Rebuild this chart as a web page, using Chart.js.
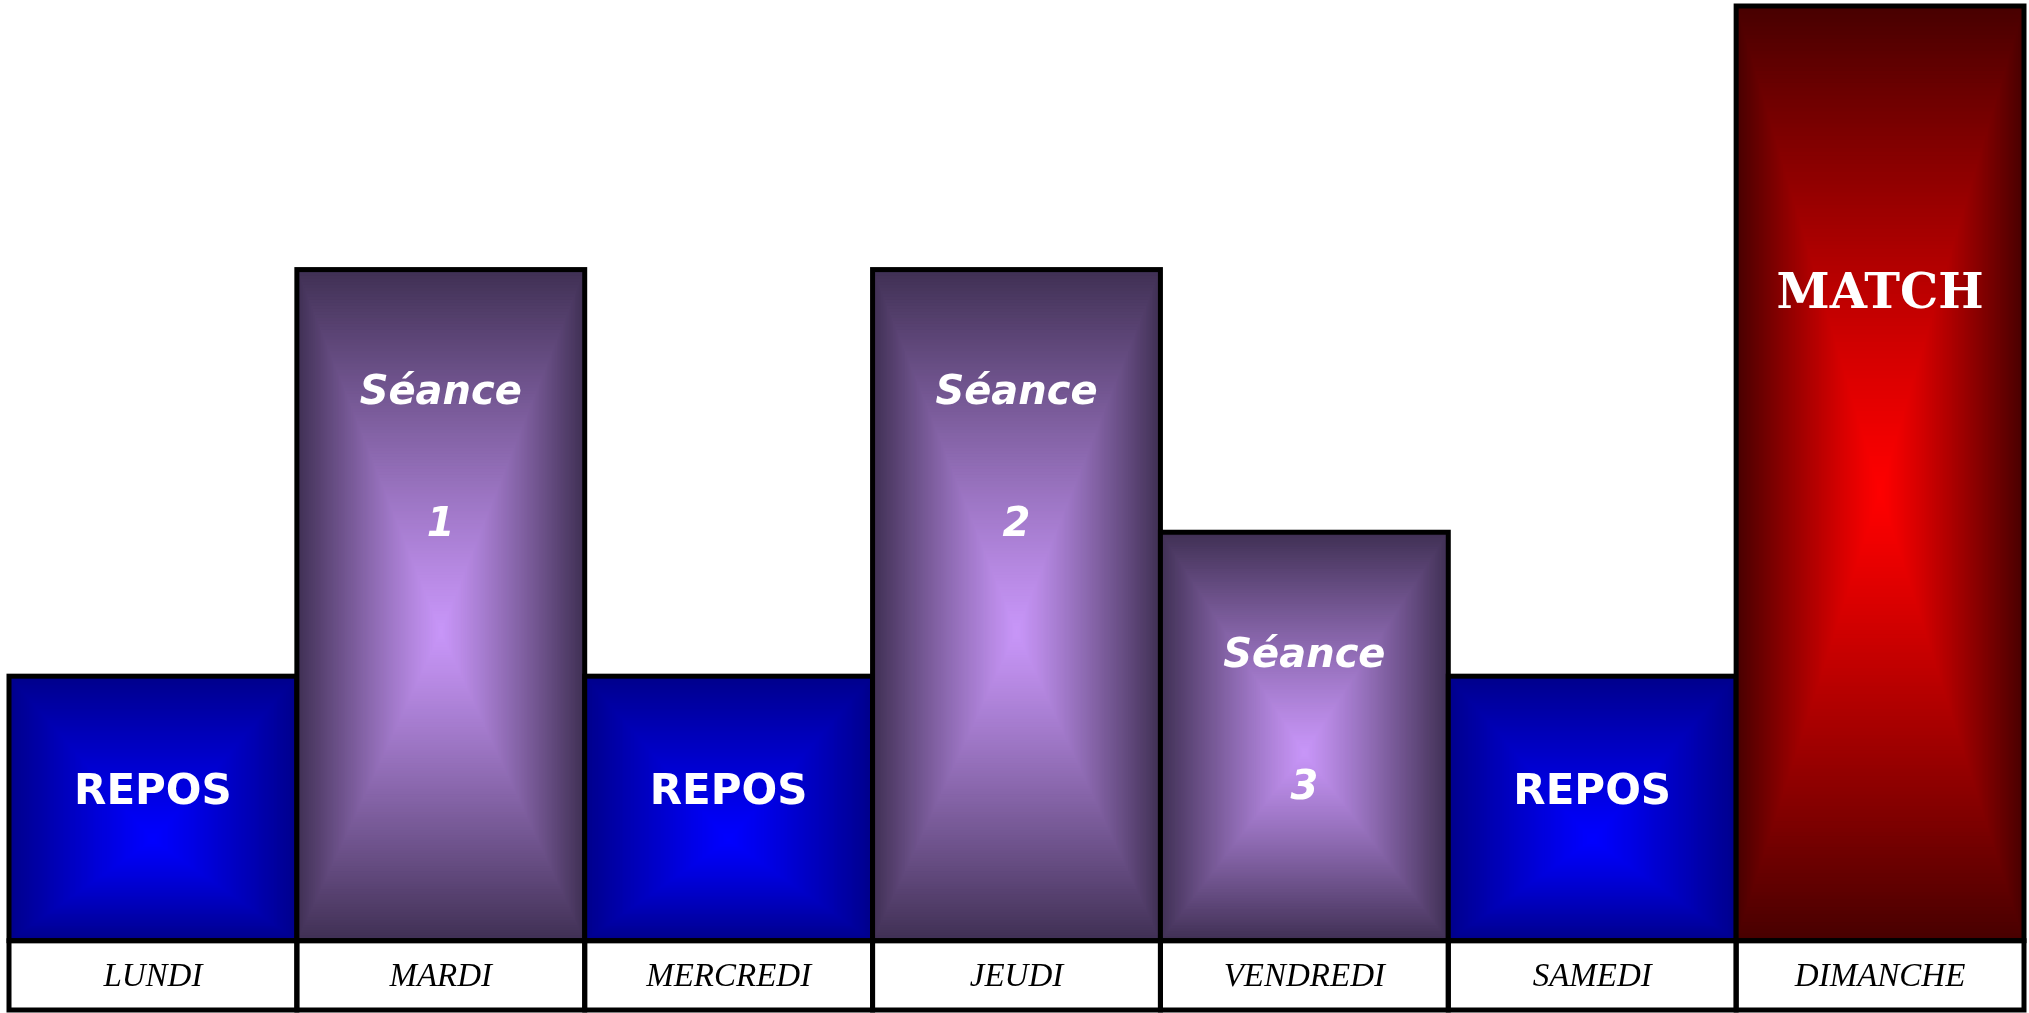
<!DOCTYPE html>
<html>
<head>
<meta charset="utf-8">
<script src="https://cdn.jsdelivr.net/npm/chart.js@4.4.1/dist/chart.umd.min.js"></script>
<style>
  html, body { margin: 0; padding: 0; background: #fff; }
  #wrap { width: 2029px; height: 1013px; }
</style>
</head>
<body>
<div id="wrap"><canvas id="planning"></canvas></div>
<script>
// planning de la semaine
const days = ['LUNDI', 'MARDI', 'MERCREDI', 'JEUDI', 'VENDREDI', 'SAMEDI', 'DIMANCHE'];
const load = [28.3, 71.8, 28.3, 71.8, 43.7, 28.3, 100];
const activity = ['repos', 'seance', 'repos', 'seance', 'seance', 'repos', 'match'];
const barText = [['REPOS'], ['Séance', '1'], ['REPOS'], ['Séance', '2'], ['Séance', '3'], ['REPOS'], ['MATCH']];

// look of each kind of day
const looks = {
    repos: {
        center: [0, 0, 255], edge: [0, 0, 140], cy: 0.62,
        font: 'bold 42px "Comic Sans MS", "DejaVu Sans", sans-serif',
        textTop: 117, lineGap: 0
    },
    seance: {
        center: [200, 150, 248], edge: [64, 48, 84], cy: 0.54,
        font: 'italic bold 40px "Comic Sans MS", "DejaVu Sans", sans-serif',
        textTop: 124, lineGap: 132
    },
    match: {
        center: [255, 0, 0], edge: [72, 0, 0], cy: 0.52,
        font: 'bold 48px "Cooper Black", "DejaVu Serif", serif',
        textTop: 290, lineGap: 0
    }
};

const LABEL_BOTTOM = 1010;

function mix(a, b, t) {
    return 'rgb(' + a.map((v, k) => Math.round(v + (b[k] - v) * t)).join(',') + ')';
}

// rectangle path gradient, like the office "from center" fill
function paintRect(ctx, left, top, right, bottom, look) {
    const cx = (left + right) / 2;
    const cy = top + (bottom - top) * look.cy;
    const steps = 120;
    for (let i = steps; i >= 0; i--) {
        const t = i / steps;
        const l = cx - t * (cx - left);
        const r = cx + t * (right - cx);
        const tp = cy - t * (cy - top);
        const b = cy + t * (bottom - cy);
        ctx.fillStyle = mix(look.center, look.edge, Math.pow(t, 1.15));
        ctx.fillRect(l, tp, r - l, b - tp);
    }
}

const barPainter = {
    id: 'barPainter',
    afterDatasetsDraw(chart) {
        const ctx = chart.ctx;
        const meta = chart.getDatasetMeta(0);
        ctx.save();
        meta.data.forEach((bar, i) => {
            const p = bar.getProps(['x', 'y', 'base', 'width'], true);
            const left = p.x - p.width / 2;
            const right = p.x + p.width / 2;
            const look = looks[activity[i]];
            paintRect(ctx, left, p.y, right, p.base, look);
            ctx.lineWidth = 5;
            ctx.strokeStyle = '#000';
            ctx.strokeRect(left, p.y, right - left, p.base - p.y);

            ctx.fillStyle = '#fff';
            ctx.font = look.font;
            ctx.textAlign = 'center';
            ctx.textBaseline = 'middle';
            barText[i].forEach((line, j) => {
                ctx.fillText(line, p.x, p.y + look.textTop + j * look.lineGap);
            });
        });
        ctx.restore();
    },
    afterDraw(chart) {
        // boxes round the day names
        const ctx = chart.ctx;
        const meta = chart.getDatasetMeta(0);
        const topY = chart.chartArea.bottom;
        ctx.save();
        ctx.lineWidth = 5;
        ctx.strokeStyle = '#000';
        meta.data.forEach(bar => {
            const p = bar.getProps(['x', 'width'], true);
            ctx.strokeRect(p.x - p.width / 2, topY, p.width, LABEL_BOTTOM - topY);
        });
        ctx.restore();
    }
};

new Chart(document.getElementById('planning').getContext('2d'), {
    type: 'bar',
    data: {
        labels: days,
        datasets: [{
            data: load,
            backgroundColor: 'rgba(0,0,0,0)',
            borderWidth: 0,
            barPercentage: 1,
            categoryPercentage: 1
        }]
    },
    options: {
        responsive: true,
        maintainAspectRatio: false,
        animation: false,
        events: [],
        layout: {
            padding: { left: 9, right: 5, top: 6, bottom: 8 }
        },
        scales: {
            x: {
                grid: { display: false },
                border: { display: false },
                ticks: {
                    color: '#000',
                    padding: 10,
                    maxRotation: 0,
                    font: { family: '"Times New Roman", "Liberation Serif", serif', style: 'italic', size: 33, lineHeight: 1.1 }
                }
            },
            y: {
                display: false,
                min: 0,
                max: 100
            }
        },
        plugins: {
            legend: { display: false },
            tooltip: { enabled: false }
        }
    },
    plugins: [barPainter]
});
</script>
</body>
</html>
